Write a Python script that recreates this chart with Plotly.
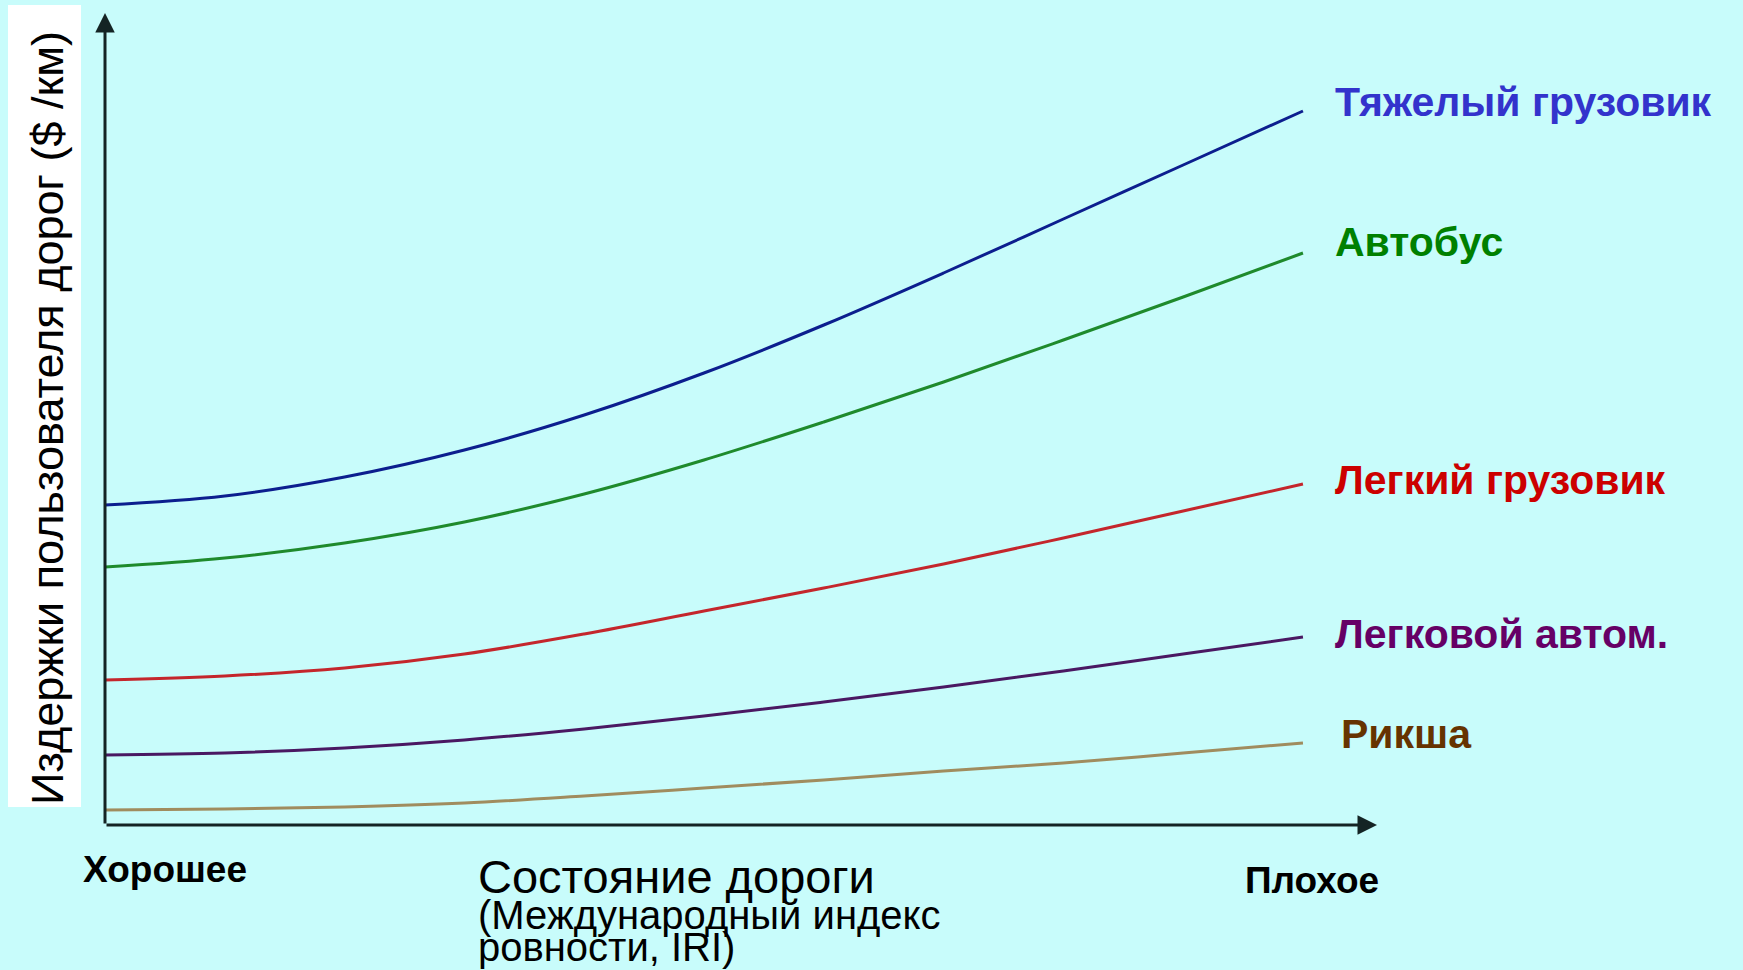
import plotly.graph_objects as go

# Road condition (IRI-like scale, good -> bad)
iri = [0, 1, 2, 3, 4, 5, 6, 7, 8, 9, 10]

# Road user costs per vehicle type (relative units)
heavy_truck = [32.0, 32.9, 34.8, 37.5, 41.0, 45.2, 50.0, 55.2, 60.6, 66.0, 71.4]
bus = [25.8, 26.7, 28.2, 30.3, 33.1, 36.5, 40.3, 44.3, 48.5, 52.8, 57.2]
light_truck = [14.5, 14.9, 15.7, 17.1, 19.1, 21.4, 23.7, 26.1, 28.7, 31.4, 34.1]
car = [7.0, 7.2, 7.7, 8.5, 9.6, 10.9, 12.3, 13.8, 15.4, 17.1, 18.8]
rickshaw = [1.5, 1.6, 1.8, 2.2, 2.9, 3.7, 4.5, 5.4, 6.2, 7.2, 8.2]

names = ["Тяжелый грузовик", "Автобус", "Легкий грузовик", "Легковой автом.", "Рикша"]
series = [heavy_truck, bus, light_truck, car, rickshaw]
line_colors = ["#0c1e8e", "#1f8a2c", "#c4262c", "#4a1862", "#a08c5e"]
text_colors = ["#3333cc", "#008000", "#cc0000", "#660066", "#663300"]
label_dx = [10.25, 10.25, 10.25, 10.25, 10.30]
label_dy = [0.9, 1.1, 0.4, 0.3, 0.9]

W, H = 1743, 970
L, R, T, B = 105, 366, 13, 145
X_MAX = 10.618
Y_MAX = 81.2
BG = "#c8fcfb"
FONT = "Liberation Sans, Arial"

fig = go.Figure()
for vals, color in zip(series, line_colors):
    fig.add_trace(go.Scatter(
        x=iri, y=vals, mode="lines",
        line=dict(color=color, width=3, shape="spline", smoothing=1.0),
        cliponaxis=False, showlegend=False, hoverinfo="skip",
    ))

annotations = []
# series labels to the right of each curve end
for name, vals, tc, dx, dy in zip(names, series, text_colors, label_dx, label_dy):
    annotations.append(dict(
        x=dx, y=vals[-1] + dy, xref="x", yref="y", text=f"<b>{name}</b>",
        showarrow=False, xanchor="left", yanchor="middle",
        font=dict(family=FONT, size=41, color=tc),
    ))

# axis arrows
annotations.append(dict(x=X_MAX, y=0, ax=0, ay=0, xref="x", yref="y", axref="x", ayref="y",
                        text="", showarrow=True, arrowhead=2, arrowsize=1.3, arrowwidth=3,
                        arrowcolor="#142424", standoff=0, startstandoff=0))
annotations.append(dict(x=0, y=Y_MAX, ax=0, ay=0, xref="x", yref="y", axref="x", ayref="y",
                        text="", showarrow=True, arrowhead=2, arrowsize=1.3, arrowwidth=3,
                        arrowcolor="#142424", standoff=0, startstandoff=0))


def px_x(p):
    return (p - L) / (W - L - R)


def px_y(p):
    return (H - B - p) / (H - T - B)


# x-axis end labels
annotations.append(dict(x=px_x(81), y=px_y(869), xref="paper", yref="paper",
                        text="<b>Хорошее</b>", showarrow=False, xanchor="left", yanchor="middle",
                        font=dict(family=FONT, size=37, color="black")))
annotations.append(dict(x=px_x(1312), y=px_y(880), xref="paper", yref="paper",
                        text="<b>Плохое</b>", showarrow=False, xanchor="center", yanchor="middle",
                        font=dict(family=FONT, size=37, color="black")))

# x-axis title
annotations.append(dict(x=px_x(476), y=px_y(876), xref="paper", yref="paper",
                        text="Состояние дороги", showarrow=False, xanchor="left", yanchor="middle",
                        font=dict(family=FONT, size=47, color="black")))
annotations.append(dict(x=px_x(476), y=px_y(915), xref="paper", yref="paper",
                        text="(Международный индекс", showarrow=False, xanchor="left", yanchor="middle",
                        font=dict(family=FONT, size=40, color="black")))
annotations.append(dict(x=px_x(476), y=px_y(947), xref="paper", yref="paper",
                        text="ровности, IRI)", showarrow=False, xanchor="left", yanchor="middle",
                        font=dict(family=FONT, size=40, color="black")))

# y-axis title on a white band
annotations.append(dict(x=px_x(47), y=px_y(418), xref="paper", yref="paper",
                        text="Издержки пользователя дорог ($ /км)", showarrow=False,
                        textangle=-90, xanchor="center", yanchor="middle",
                        font=dict(family=FONT, size=45, color="black")))

shapes = [dict(type="rect", xref="paper", yref="paper",
               x0=px_x(8), x1=px_x(81), y0=px_y(807), y1=px_y(5),
               fillcolor="white", line=dict(width=0), layer="below")]

fig.update_layout(
    width=W, height=H,
    margin=dict(l=L, r=R, t=T, b=B),
    paper_bgcolor=BG, plot_bgcolor=BG,
    xaxis=dict(range=[0, X_MAX], visible=False),
    yaxis=dict(range=[0, Y_MAX], visible=False),
    annotations=annotations, shapes=shapes,
)

fig.write_html("out.html")
